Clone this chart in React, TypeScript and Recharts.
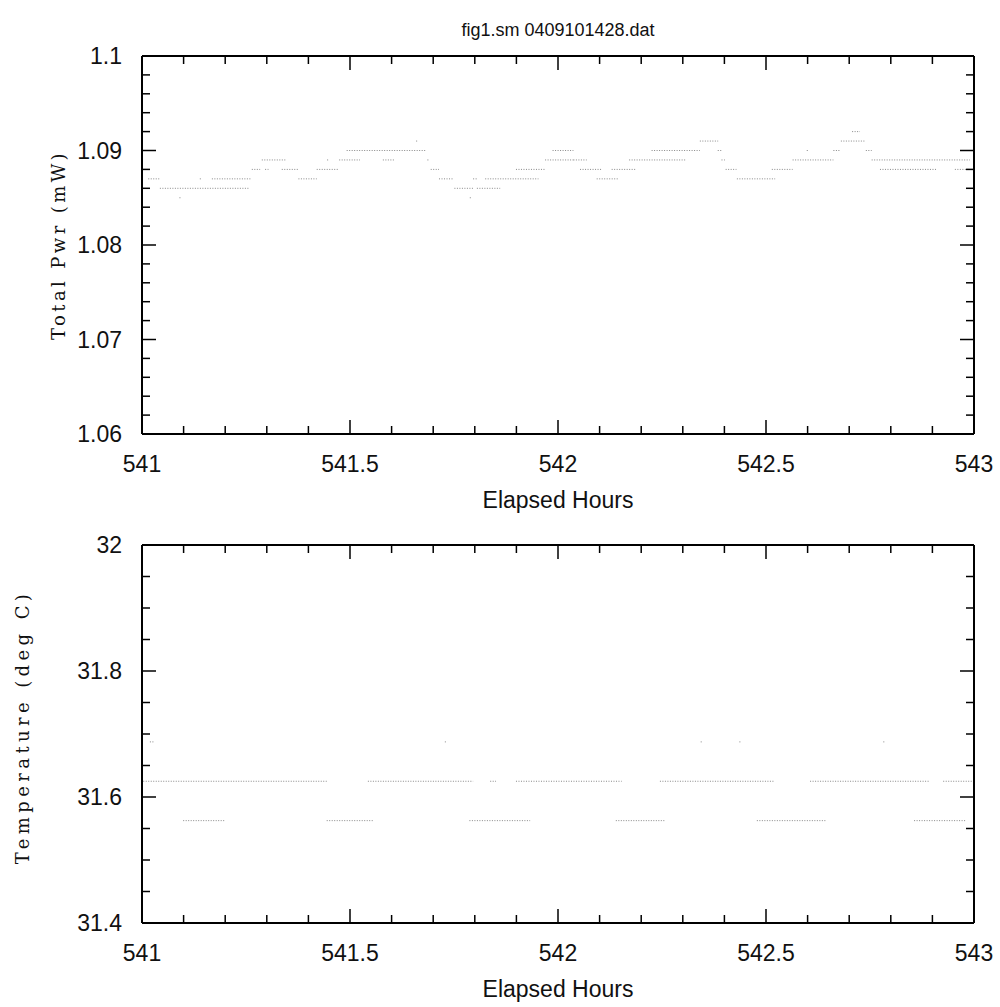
import React from 'react';
import { LineChart, Line, XAxis, YAxis } from 'recharts';

// hours axis
const xTicks = [541, 541.1, 541.2, 541.3, 541.4, 541.5, 541.6, 541.7, 541.8, 541.9, 542, 542.1, 542.2, 542.3, 542.4, 542.5, 542.6, 542.7, 542.8, 542.9, 543];
const xLabels = [541, 541.5, 542, 542.5, 543];

const pwrTicks = [1.06, 1.062, 1.064, 1.066, 1.068, 1.07, 1.072, 1.074, 1.076, 1.078, 1.08, 1.082, 1.084, 1.086, 1.088, 1.09, 1.092, 1.094, 1.096, 1.098, 1.1];
const pwrLabels = [1.06, 1.07, 1.08, 1.09, 1.1];

const tempTicks = [31.4, 31.45, 31.5, 31.55, 31.6, 31.65, 31.7, 31.75, 31.8, 31.85, 31.9, 31.95, 32];
const tempLabels = [31.4, 31.6, 31.8, 32];

// runs of constant reading: [start hour, end hour, value]
const pwrRuns: [number, number, number][] = [
  [541.015, 541.043, 1.087],
  [541.043, 541.256, 1.086],
  [541.09, 541.093, 1.085],
  [541.139, 541.142, 1.087],
  [541.168, 541.264, 1.087],
  [541.264, 541.284, 1.088],
  [541.288, 541.348, 1.089],
  [541.296, 541.304, 1.088],
  [541.336, 541.376, 1.088],
  [541.376, 541.42, 1.087],
  [541.42, 541.474, 1.088],
  [541.445, 541.448, 1.089],
  [541.474, 541.524, 1.089],
  [541.492, 541.684, 1.09],
  [541.579, 541.606, 1.089],
  [541.659, 541.662, 1.091],
  [541.686, 541.692, 1.089],
  [541.694, 541.714, 1.088],
  [541.714, 541.748, 1.087],
  [541.751, 541.796, 1.086],
  [541.788, 541.791, 1.085],
  [541.796, 541.805, 1.087],
  [541.805, 541.861, 1.086],
  [541.825, 541.953, 1.087],
  [541.899, 541.969, 1.088],
  [541.969, 542.037, 1.089],
  [541.987, 542.037, 1.09],
  [542.037, 542.069, 1.089],
  [542.053, 542.105, 1.088],
  [542.093, 542.145, 1.087],
  [542.129, 542.189, 1.088],
  [542.171, 542.309, 1.089],
  [542.225, 542.341, 1.09],
  [542.341, 542.385, 1.091],
  [542.384, 542.393, 1.09],
  [542.393, 542.401, 1.089],
  [542.403, 542.429, 1.088],
  [542.43, 542.522, 1.087],
  [542.514, 542.564, 1.088],
  [542.564, 542.662, 1.089],
  [542.598, 542.601, 1.09],
  [542.662, 542.68, 1.09],
  [542.68, 542.74, 1.091],
  [542.707, 542.726, 1.092],
  [542.74, 542.754, 1.09],
  [542.754, 542.99, 1.089],
  [542.774, 542.91, 1.088],
  [542.954, 542.99, 1.088],
];

const tempRuns: [number, number, number][] = [
  [541.019, 541.031, 31.6875],
  [541.003, 541.444, 31.625],
  [541.099, 541.2, 31.5625],
  [541.444, 541.556, 31.5625],
  [541.543, 541.796, 31.625],
  [541.728, 541.731, 31.6875],
  [541.787, 541.933, 31.5625],
  [541.837, 541.851, 31.625],
  [541.899, 542.153, 31.625],
  [542.139, 542.257, 31.5625],
  [542.245, 542.518, 31.625],
  [542.343, 542.346, 31.6875],
  [542.436, 542.439, 31.6875],
  [542.478, 542.646, 31.5625],
  [542.606, 542.894, 31.625],
  [542.782, 542.785, 31.6875],
  [542.856, 542.981, 31.5625],
  [542.926, 542.998, 31.625],
];

const toPoints = (runs: [number, number, number][]) => {
  const out: { h: number; v: number | null }[] = [];
  runs.forEach(([a, b, v]) => {
    out.push({ h: a, v }, { h: b, v }, { h: b, v: null });
  });
  return out;
};

const isMajor = (labels: number[], v: number) => labels.some(l => Math.abs(l - v) < 1e-6);

const sans = '"Liberation Sans", Arial, sans-serif';
const serif = '"DejaVu Serif", serif';

const bottomTick = (props: any) => {
  const { x, y, payload } = props;
  const major = isMajor(xLabels, payload.value);
  return (
    <g>
      <line x1={x} y1={y} x2={x} y2={y - (major ? 14 : 8)} stroke="#000" strokeWidth={1.5} />
      {major && (
        <text x={x} y={y + 38} textAnchor="middle" fontFamily={sans} fontSize={23} fill="#111">
          {String(payload.value)}
        </text>
      )}
    </g>
  );
};

const topTick = (props: any) => {
  const { x, y, payload } = props;
  const major = isMajor(xLabels, payload.value);
  return <line x1={x} y1={y} x2={x} y2={y + (major ? 14 : 8)} stroke="#000" strokeWidth={1.5} />;
};

const leftTick = (labels: number[]) => (props: any) => {
  const { x, y, payload } = props;
  const major = isMajor(labels, payload.value);
  return (
    <g>
      <line x1={x} y1={y} x2={x + (major ? 14 : 8)} y2={y} stroke="#000" strokeWidth={1.5} />
      {major && (
        <text x={x - 20} y={y + 8} textAnchor="end" fontFamily={sans} fontSize={23} fill="#111">
          {String(payload.value)}
        </text>
      )}
    </g>
  );
};

const rightTick = (labels: number[]) => (props: any) => {
  const { x, y, payload } = props;
  const major = isMajor(labels, payload.value);
  return <line x1={x} y1={y} x2={x - (major ? 14 : 8)} y2={y} stroke="#000" strokeWidth={1.5} />;
};

interface PanelProps {
  runs: [number, number, number][];
  domain: [number, number];
  ticks: number[];
  labels: number[];
}

const frame = { stroke: '#000', strokeWidth: 2 };

const Panel: React.FC<PanelProps> = ({ runs, domain, ticks, labels }) => (
  <LineChart width={1000} height={500} data={toPoints(runs)} margin={{ top: 55, right: 25, bottom: 65, left: 141 }}>
    <XAxis
      dataKey="h" type="number" domain={[541, 543]} allowDataOverflow ticks={xTicks} interval={0}
      height={1} tickSize={0} tickMargin={0} tickLine={false} tick={bottomTick} axisLine={frame}
    />
    <XAxis
      xAxisId="top" orientation="top" dataKey="h" type="number" domain={[541, 543]} allowDataOverflow
      ticks={xTicks} interval={0} height={1} tickSize={0} tickMargin={0} tickLine={false} tick={topTick}
      axisLine={frame}
    />
    <YAxis
      type="number" domain={domain} allowDataOverflow ticks={ticks} interval={0}
      width={1} tickSize={0} tickMargin={0} tickLine={false} tick={leftTick(labels)} axisLine={frame}
    />
    <YAxis
      yAxisId="right" orientation="right" type="number" domain={domain} allowDataOverflow ticks={ticks} interval={0}
      width={1} tickSize={0} tickMargin={0} tickLine={false} tick={rightTick(labels)} axisLine={frame}
    />
    <Line
      dataKey="v" type="linear" stroke="#888" strokeWidth={1} strokeDasharray="1 1.5"
      dot={false} activeDot={false} connectNulls={false} isAnimationActive={false}
    />
  </LineChart>
);

const textBase: React.CSSProperties = { position: 'absolute', whiteSpace: 'nowrap', color: '#111' };

export default function App() {
  return (
    <div style={{ position: 'absolute', left: 0, top: 0, width: 1000, height: 1007, background: '#fff', overflow: 'hidden' }}>
      <div style={{ position: 'absolute', left: 0, top: 0 }}>
        <Panel runs={pwrRuns} domain={[1.06, 1.1]} ticks={pwrTicks} labels={pwrLabels} />
      </div>
      <div style={{ position: 'absolute', left: 0, top: 489 }}>
        <Panel runs={tempRuns} domain={[31.4, 32]} ticks={tempTicks} labels={tempLabels} />
      </div>

      <div style={{ ...textBase, left: 558, top: 30, transform: 'translate(-50%, -50%)', fontFamily: sans, fontSize: 18 }}>
        fig1.sm 0409101428.dat
      </div>
      <div style={{ ...textBase, left: 558, top: 500, transform: 'translate(-50%, -50%)', fontFamily: sans, fontSize: 23 }}>
        Elapsed Hours
      </div>
      <div style={{ ...textBase, left: 558, top: 989, transform: 'translate(-50%, -50%)', fontFamily: sans, fontSize: 23 }}>
        Elapsed Hours
      </div>
      <div style={{ ...textBase, left: 58, top: 245, transform: 'translate(-50%, -50%) rotate(-90deg)', fontFamily: serif, fontSize: 18, letterSpacing: 3.4 }}>
        Total Pwr (mW)
      </div>
      <div style={{ ...textBase, left: 22, top: 727, transform: 'translate(-50%, -50%) rotate(-90deg)', fontFamily: serif, fontSize: 18, letterSpacing: 4.4 }}>
        Temperature (deg C)
      </div>
    </div>
  );
}
